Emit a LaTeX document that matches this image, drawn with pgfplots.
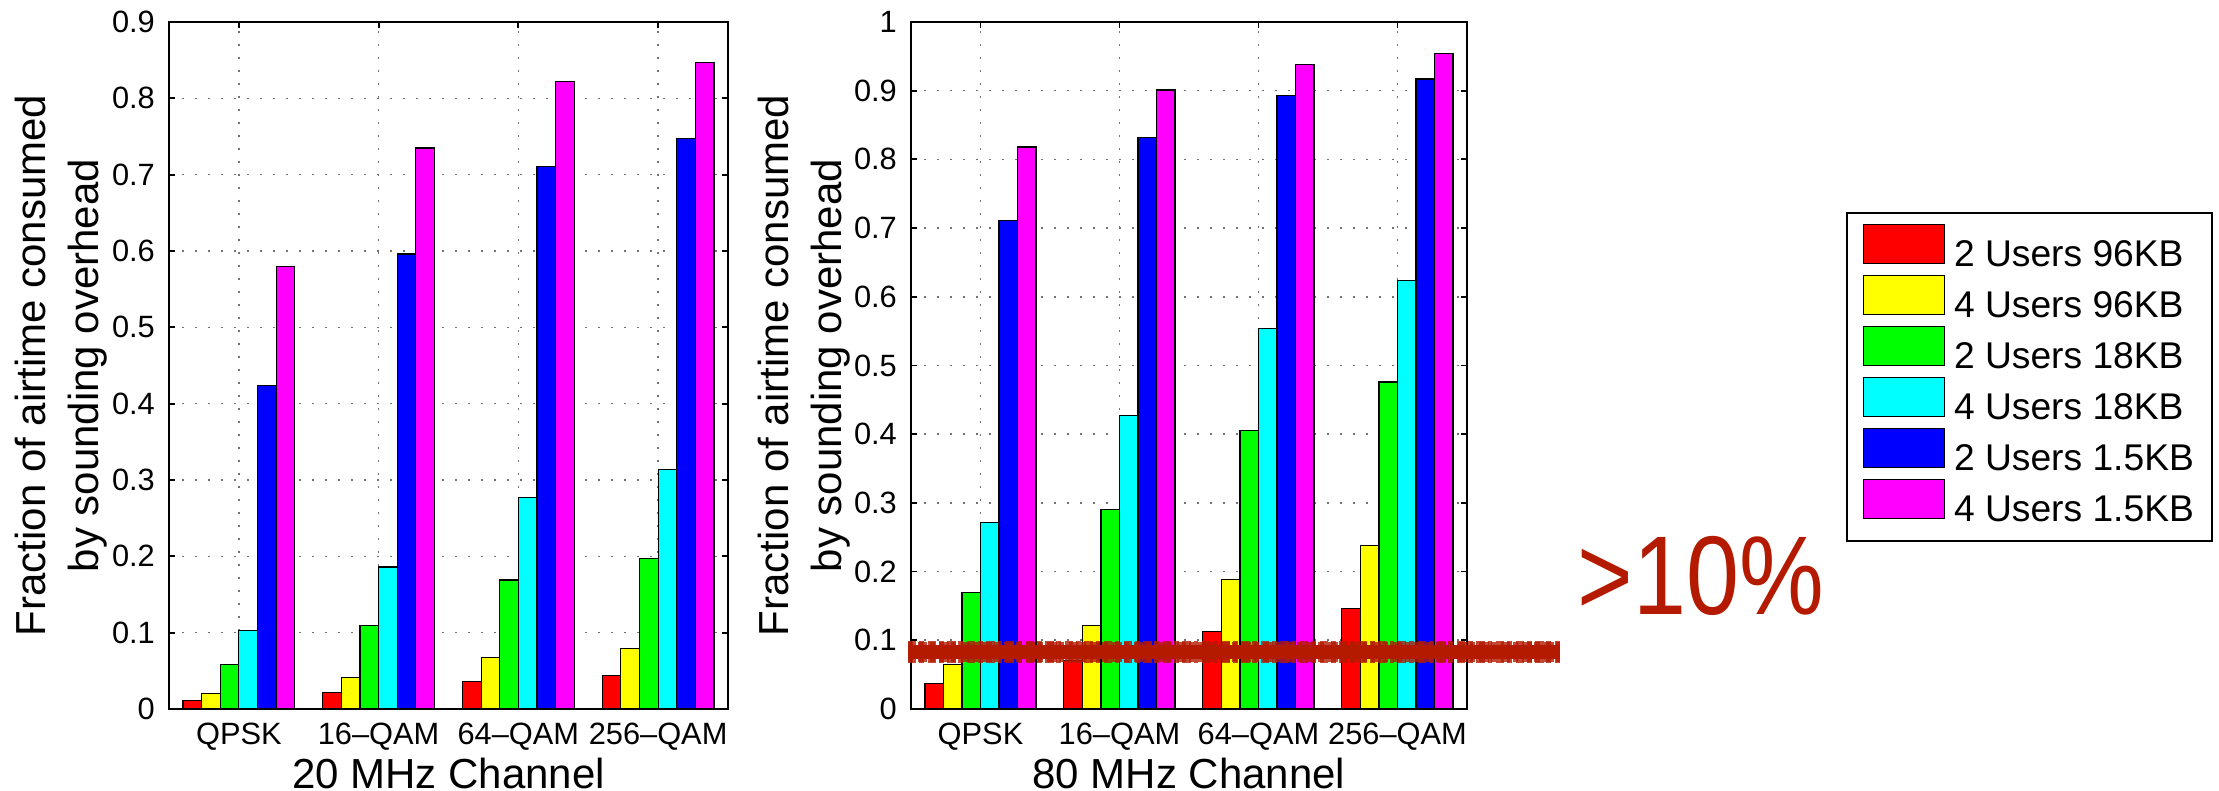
\documentclass[border=0pt]{standalone}
\usepackage{pgfplots}
\pgfplotsset{compat=1.18}
\usepackage{fontspec}
\setmainfont{Liberation Sans}
\usepackage{graphicx}

\definecolor{annot}{RGB}{180,26,0}
\definecolor{mred}{RGB}{255,0,0}
\definecolor{myellow}{RGB}{255,255,0}
\definecolor{mgreen}{RGB}{0,255,0}
\definecolor{mcyan}{RGB}{0,255,255}
\definecolor{mblue}{RGB}{0,0,255}
\definecolor{mmagenta}{RGB}{255,0,255}

\pgfplotsset{
  /pgfplots/ybar legend/.style={
    /pgfplots/legend image code/.code={\draw[##1, line width=0.3pt, draw=black] (0pt,-1.65pt) rectangle (20.25pt,8.1pt);}
  },
  mybars/.style={
    scale only axis,
    height=171.75pt,
    ybar=0pt, bar width=0.133333,
    xmin=0.5, xmax=4.5, ymin=0,
    xtick={1,2,3,4},
    xticklabels={QPSK,16--QAM,64--QAM,256--QAM},
    tick align=inside,
    major tick length=1.6pt,
    grid=major,
    grid style={dash pattern=on 0.45pt off 2.8pt, line width=0.4pt, black!55},
    axis line style={line width=0.45pt},
    every tick/.style={black, line width=0.45pt},
    tick label style={font=\fontsize{7.7}{8}\selectfont},
    /pgf/number format/assume math mode=true,
    yticklabel style={/pgf/number format/fixed, /pgf/number format/precision=1},
    xticklabel style={anchor=base, yshift=-9pt},
    label style={font=\fontsize{10.5}{13.25}\selectfont},
    xlabel style={at={(axis description cs:0.5,-0.115)}, anchor=base},
    ylabel style={at={(axis description cs:-0.193,0.5)}, anchor=center, align=center},
    every axis plot/.append style={draw=black, line width=0.3pt},
  }
}

\begin{document}
\begin{tikzpicture}
\useasboundingbox (-42.25pt,-20.5pt) rectangle (512.5pt,177.25pt);

% ---------------- 20 MHz ----------------
\begin{axis}[mybars,
  at={(0pt,0pt)}, anchor=south west,
  width=139.75pt,
  ymax=0.9,
  ytick={0,0.1,0.2,0.3,0.4,0.5,0.6,0.7,0.8,0.9},
  xlabel={20 MHz Channel},
  ylabel={Fraction of airtime consumed\\by sounding overhead},
]
\addplot[fill=mred]     coordinates {(1,0.011) (2,0.022) (3,0.036) (4,0.044)};
\addplot[fill=myellow]  coordinates {(1,0.020) (2,0.041) (3,0.067) (4,0.079)};
\addplot[fill=mgreen]   coordinates {(1,0.058) (2,0.109) (3,0.169) (4,0.197)};
\addplot[fill=mcyan]    coordinates {(1,0.103) (2,0.186) (3,0.277) (4,0.314)};
\addplot[fill=mblue]    coordinates {(1,0.424) (2,0.596) (3,0.711) (4,0.747)};
\addplot[fill=mmagenta] coordinates {(1,0.580) (2,0.735) (3,0.822) (4,0.847)};
\end{axis}

% ---------------- 80 MHz ----------------
\begin{axis}[mybars,
  at={(185.5pt,0pt)}, anchor=south west,
  width=139pt,
  ymax=1,
  ytick={0,0.1,0.2,0.3,0.4,0.5,0.6,0.7,0.8,0.9,1},
  xlabel={80 MHz Channel},
  ylabel={Fraction of airtime consumed\\by sounding overhead},
  clip=false,
  legend style={at={(1.6817,0.7234)}, anchor=north west, draw=black,
    line width=0.45pt, inner xsep=4pt, inner ysep=2.75pt,
    row sep=0pt, column sep=1.75pt, nodes={inner sep=0.5pt},
    font=\fontsize{9.3}{9.3}\selectfont, cells={anchor=west}},
]
\addplot[fill=mred]     coordinates {(1,0.037) (2,0.071) (3,0.113) (4,0.146)};
\addplot[fill=myellow]  coordinates {(1,0.065) (2,0.122) (3,0.188) (4,0.238)};
\addplot[fill=mgreen]   coordinates {(1,0.169) (2,0.290) (3,0.405) (4,0.476)};
\addplot[fill=mcyan]    coordinates {(1,0.271) (2,0.427) (3,0.554) (4,0.624)};
\addplot[fill=mblue]    coordinates {(1,0.711) (2,0.832) (3,0.893) (4,0.917)};
\addplot[fill=mmagenta] coordinates {(1,0.818) (2,0.901) (3,0.938) (4,0.954)};
\legend{2 Users 96KB, 4 Users 96KB, 2 Users 18KB, 4 Users 18KB, 2 Users 1.5KB, 4 Users 1.5KB}
% rough threshold band
\draw[annot, line width=5.5pt, dash pattern=on 2.1pt off 0.7pt on 1.2pt off 0.9pt, opacity=0.8]
  (axis cs:0.478,0.0835) -- (axis cs:5.169,0.0835);
\draw[annot, line width=5pt, dash pattern=on 1.3pt off 1.1pt on 2.4pt off 0.6pt, opacity=0.8]
  (axis cs:0.478,0.0825) -- (axis cs:5.169,0.0825);
\draw[annot, line width=3.6pt] (axis cs:0.478,0.083) -- (axis cs:5.169,0.083);
\end{axis}

\node[anchor=base west, inner sep=0pt, text=annot, font=\fontsize{28}{28}\selectfont]
  at (352pt,23.5pt) {\scalebox{0.85}[1]{>10\%}};
\end{tikzpicture}
\end{document}
